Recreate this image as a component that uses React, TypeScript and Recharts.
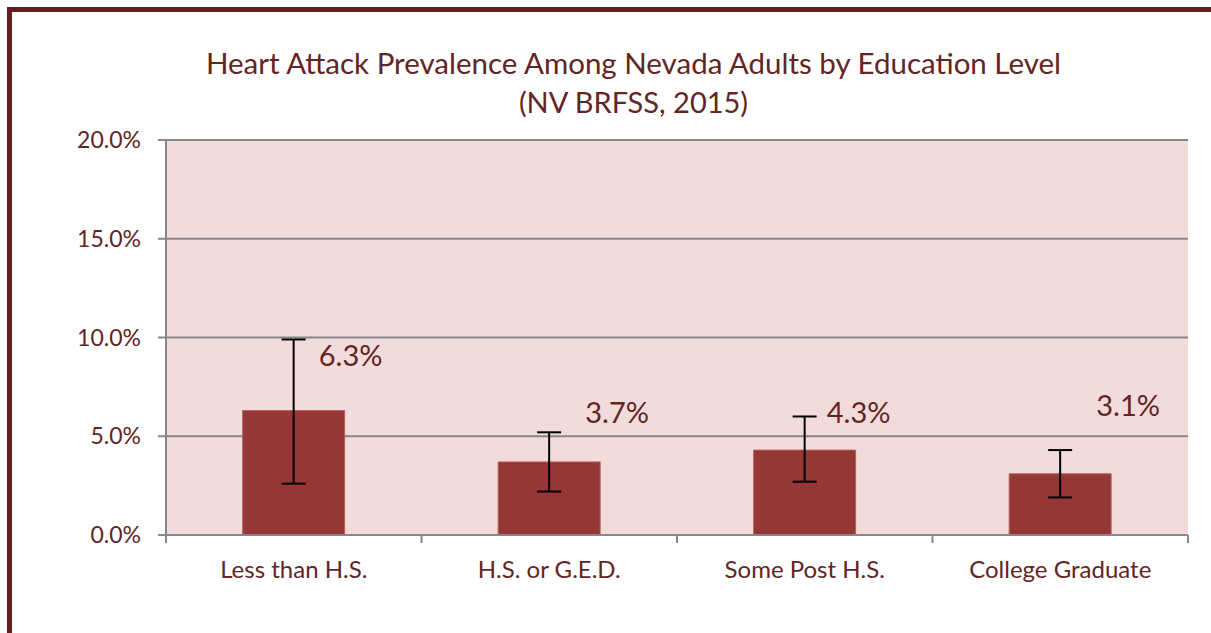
import React from 'react'
import { BarChart, Bar, XAxis, YAxis, CartesianGrid, ErrorBar, LabelList } from 'recharts'

const categories = ['Less than H.S.', 'H.S. or G.E.D.', 'Some Post H.S.', 'College Graduate']
const prevalence = [6.3, 3.7, 4.3, 3.1]
const ciLow = [2.6, 2.2, 2.7, 1.9]
const ciHigh = [9.9, 5.2, 6.0, 4.3]
const yTicks = [0, 5, 10, 15, 20]

const data = categories.map((name, i) => ({
  name,
  value: prevalence[i],
  err: [prevalence[i] - ciLow[i], ciHigh[i] - prevalence[i]],
}))

const colors = {
  text: '#632523',
  bar: '#953735',
  barEdge: '#b8605e',
  plot: '#f2dcdb',
  grid: '#878787',
  frame: '#641f1f',
}

const FONT = 'Lato, "Open Sans", sans-serif'
const W = 1211
const H = 633
const Y_AXIS_W = 166
const MARGIN_RIGHT = 23
const halfBand = (W - Y_AXIS_W - MARGIN_RIGHT) / categories.length / 2

// hand-placed data labels, like the original (offset from bar top centre)
const labelNudge = [
  { dx: 57, dy: -45 },
  { dx: 68, dy: -39 },
  { dx: 54, dy: -27 },
  { dx: 68, dy: -58 },
]

const CategoryTick = (props: any) => {
  const { x, y, payload, index } = props
  const last = index === categories.length - 1
  return (
    <g>
      <line x1={x - halfBand} x2={x - halfBand} y1={y} y2={y + 8} stroke={colors.grid} strokeWidth={2} />
      {last && <line x1={x + halfBand} x2={x + halfBand} y1={y} y2={y + 8} stroke={colors.grid} strokeWidth={2} />}
      <text x={x} y={y + 43} textAnchor="middle" fill={colors.text} fontSize={24} fontFamily={FONT}>
        {payload.value}
      </text>
    </g>
  )
}

const ValueLabel = (props: any) => {
  const { x, y, width, value, index } = props
  const n = labelNudge[index] || { dx: 0, dy: -10 }
  return (
    <text x={x + width / 2 + n.dx} y={y + n.dy} textAnchor="middle" fill={colors.text} fontSize={29} fontFamily={FONT}>
      {value.toFixed(1)}%
    </text>
  )
}

export default function App() {
  return (
    <div style={{ position: 'absolute', left: 0, top: 0, width: W, height: H, overflow: 'hidden', background: '#fff' }}>
      <div
        style={{
          position: 'absolute',
          left: 7,
          top: 7,
          width: W,
          height: H,
          borderLeft: `5px solid ${colors.frame}`,
          borderTop: `5px solid ${colors.frame}`,
        }}
      />
      <svg width={W} height={130} style={{ position: 'absolute', left: 0, top: 0 }}>
        <text x={633.5} y={74} textAnchor="middle" fill={colors.text} fontSize={29.5} fontFamily={FONT}>
          Heart Attack Prevalence Among Nevada Adults by Education Level
        </text>
        <text x={633.5} y={113} textAnchor="middle" fill={colors.text} fontSize={29} fontFamily={FONT}>
          (NV BRFSS, 2015)
        </text>
      </svg>
      <div style={{ position: 'absolute', left: 0, top: 0 }}>
        <BarChart
          width={W}
          height={H}
          data={data}
          margin={{ top: 140, right: MARGIN_RIGHT, left: 0, bottom: 38 }}
          barCategoryGap="30%"
        >
          <CartesianGrid vertical={false} stroke={colors.grid} strokeWidth={2} fill={colors.plot} fillOpacity={1} />
          <XAxis
            dataKey="name"
            height={60}
            tickLine={false}
            tickSize={0}
            tickMargin={0}
            axisLine={{ stroke: colors.grid, strokeWidth: 2 }}
            tick={<CategoryTick />}
            interval={0}
          />
          <YAxis
            width={Y_AXIS_W}
            domain={[0, 20]}
            ticks={yTicks}
            tickFormatter={(v: number) => `${v.toFixed(1)}%`}
            tickSize={8}
            tickMargin={17}
            tickLine={{ stroke: colors.grid, strokeWidth: 2 }}
            axisLine={{ stroke: colors.grid, strokeWidth: 2 }}
            tick={{ fill: colors.text, fontSize: 23, fontFamily: FONT }}
          />
          <Bar dataKey="value" fill={colors.bar} stroke={colors.barEdge} strokeWidth={1} isAnimationActive={false}>
            <ErrorBar dataKey="err" width={12} stroke="#000" strokeWidth={2} direction="y" />
            <LabelList dataKey="value" content={<ValueLabel />} />
          </Bar>
        </BarChart>
      </div>
    </div>
  )
}
